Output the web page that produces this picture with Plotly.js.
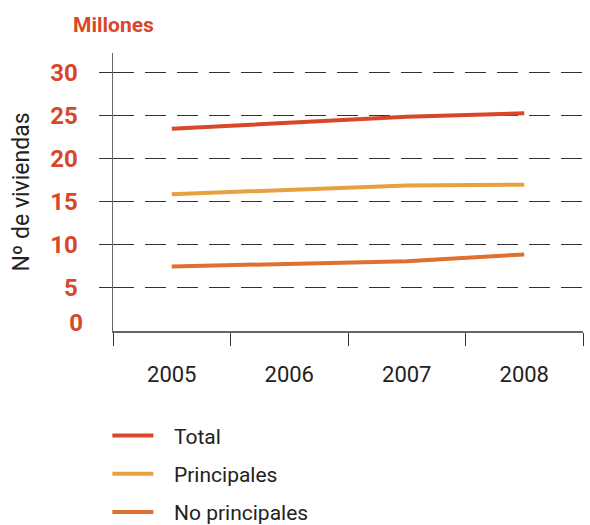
<!DOCTYPE html>
<html>
<head>
<meta charset="utf-8">
<script src="https://cdn.plot.ly/plotly-3.0.1.min.js"></script>
<style>html,body{margin:0;padding:0;background:#fff;}#chart{width:590px;height:525px;}</style>
</head>
<body>
<div id="chart"></div>
<script>
const years = ['2005', '2006', '2007', '2008'];
const total = [23.5, 24.2, 24.9, 25.3];
const principales = [15.9, 16.4, 16.9, 17.0];
const noPrincipales = [7.5, 7.8, 8.1, 8.9];
const seriesNames = ['Total', 'Principales', 'No principales'];
const yTicks = [5, 10, 15, 20, 25, 30];

const red = '#d9472b';
const colors = ['#d9472b', '#e8a040', '#e07030'];
const fontFam = 'Roboto, "Noto Sans", sans-serif';
const pad = '\u00a0\u00a0\u00a0';

const traces = [total, principales, noPrincipales].map((vals, i) => ({
  type: 'scatter', mode: 'lines', x: years, y: vals, name: pad + seriesNames[i],
  line: {color: colors[i], width: 4}, legendgroup: 'g' + i, hoverinfo: 'skip'
}));

const layout = {
  width: 590, height: 525,
  margin: {l: 113, r: 7, t: 53, b: 194, autoexpand: false},
  paper_bgcolor: '#fff', plot_bgcolor: '#fff',
  showlegend: true,
  legend: {x: -0.012, xanchor: 'left', y: -0.303, yanchor: 'top',
    font: {family: fontFam, size: 21, color: '#222'}, itemwidth: 41,
    traceorder: 'grouped', tracegroupgap: 8, bgcolor: 'rgba(0,0,0,0)'},
  xaxis: {
    type: 'category', range: [-0.5, 3.5], tickson: 'boundaries',
    ticks: 'outside', ticklen: 13, tickcolor: '#333', tickwidth: 1,
    showline: true, linecolor: '#666', linewidth: 1.5, showgrid: false,
    tickfont: {family: fontFam, size: 22, color: '#222'}, ticklabelstandoff: 23
  },
  yaxis: {
    range: [0, 32.3], tickvals: yTicks, ticktext: yTicks.map(String),
    ticks: 'outside', ticklen: 13, tickcolor: '#333', tickwidth: 1,
    showline: true, linecolor: '#666', linewidth: 1.5,
    showgrid: true, gridcolor: '#333', gridwidth: 1, griddash: '21px,11px',
    zeroline: false,
    tickfont: {family: fontFam, size: 24, color: red, weight: 'bold'},
    ticklabelstandoff: 16,
    title: {text: 'Nº de viviendas', font: {family: fontFam, size: 23, color: '#222'}, standoff: 14}
  },
  yaxis2: {
    overlaying: 'y', side: 'left', range: [0, 32.3], tickvals: [0], ticktext: ['0'],
    ticks: '', showline: false, showgrid: false, zeroline: false,
    tickfont: {family: fontFam, size: 24, color: red, weight: 'bold'},
    ticklabelstandoff: 29, ticklabelshift: -8
  },
  annotations: [{
    text: '<b>Millones</b>', xref: 'paper', yref: 'paper', x: -0.09, y: 1.0,
    xanchor: 'left', yanchor: 'bottom', yshift: 14, showarrow: false,
    font: {family: fontFam, size: 21, color: red}
  }]
};

const dummy = {type: 'scatter', mode: 'none', x: [], y: [], yaxis: 'y2', showlegend: false, hoverinfo: 'skip'};

Plotly.newPlot('chart', traces.concat([dummy]), layout, {displayModeBar: false, staticPlot: true});
</script>
</body>
</html>
